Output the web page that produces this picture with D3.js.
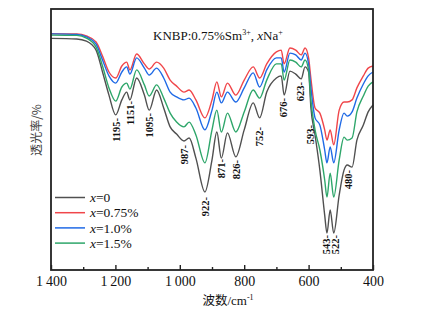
<!DOCTYPE html>
<html lang="zh">
<head>
<meta charset="UTF-8">
<title>KNBP FTIR</title>
<script src="https://d3js.org/d3.v7.min.js"></script>
<style>
  body { margin: 0; background: #fff; }
  text { font-family: "Liberation Serif", "Times New Roman", serif; fill: #111; }
</style>
</head>
<body>
<div class="chart"></div>
<script>
  const wavenumbers = [1400, 1320, 1290, 1260, 1240, 1220, 1199, 1180, 1165, 1155, 1134, 1110, 1095, 1072, 1050, 1030, 1010, 987, 971, 950,
    922, 900, 885, 871, 852, 826, 800, 772, 752, 730, 700, 685, 676, 658, 640, 623, 611, 600, 593, 580,
    565, 550, 543, 533, 522, 505, 490, 480, 465, 450, 430, 415, 400];

  // transmittance (a.u.)
  const naZero = [77.2, 77, 76.3, 73.3, 66, 58.3, 51.7, 56.7, 59.3, 56.7, 64, 58.3, 53.3, 60, 54, 47.7, 45.3, 43, 44, 37.3,
    26, 36.7, 46, 37.3, 45.7, 37.7, 46.7, 55.7, 50.7, 59.3, 64, 64.7, 58.3, 66.3, 65.3, 63.7, 67.7, 66, 54.3, 45,
    33.3, 18.3, 12.3, 20, 12.3, 25, 33.3, 35, 34.3, 43.3, 48.3, 52.7, 55];
  const na075 = [78.8, 78.7, 78, 76, 71.3, 66, 64, 68, 69.3, 66.7, 72, 68.7, 67, 69.3, 67.3, 63.3, 61.3, 59.3, 60, 56.7,
    50.7, 56.7, 62.7, 57.7, 62.3, 58.3, 63.3, 67.7, 64, 68.7, 72.7, 73.3, 68.7, 74, 73.3, 71.7, 74, 70.7, 64, 54,
    52.3, 46.7, 43.3, 46.7, 41.7, 53.3, 56, 56, 56.7, 60.7, 64.7, 67.3, 68];
  const na10 = [78.7, 78.5, 77.7, 75.3, 70, 64.7, 62.3, 66, 67.7, 65.3, 70.7, 67.3, 65, 67.3, 64, 59.3, 57.7, 56.7, 57.3, 54,
    46.7, 53.3, 59.3, 55.7, 59.3, 56, 60.7, 65.7, 61, 66.7, 70.7, 70.7, 66, 72.3, 71.7, 70, 72.3, 68.7, 61, 50.7,
    48.3, 40, 35.7, 41, 35.7, 46.7, 52.3, 51.3, 52.7, 57.3, 62, 64.7, 66];
  const na15 = [78.3, 78.2, 77.3, 74.3, 68, 60.7, 56.3, 61, 62.3, 60.3, 66.7, 61.7, 58, 61.7, 57.3, 52.3, 49.3, 47.7, 49.3, 45,
    35.7, 46.7, 53.3, 46, 52.3, 46, 52.7, 60, 57.3, 63.3, 68.7, 68.7, 63.3, 70, 69.3, 67.7, 70, 66.7, 56.7, 46.7,
    40, 30, 24.3, 32.3, 24.3, 36.7, 44.3, 43.3, 44, 52.7, 58, 61.3, 62.7];

  const seriesNames = ['0', '0.75%', '1.0%', '1.5%'];
  const seriesColors = ['#505050', '#f0464a', '#1f6ae6', '#2ea66a'];

  // band labels: text, position (cm-1), level of the label top (a.u.)
  const peakLabels = ['1195', '1151', '1095', '987', '922', '871', '826', '752', '676', '623', '593', '480', '543', '522'];
  const peakPos = [1197, 1155, 1096, 987, 922, 870, 826, 752, 678, 627, 595, 478, 544, 518];
  const peakLevel = [50.7, 56.3, 52.3, 41.7, 24.3, 37, 36.7, 47.7, 57.3, 62.7, 48.3, 33.3, 11.7, 11.7];

  const majorTicks = [1400, 1200, 1000, 800, 600, 400];
  const minorTicks = [1300, 1100, 900, 700, 500];

  const bxSize = {w: 435, h: 311};
  const margin = {top: 9, right: 62, bottom: 41, left: 51};
  const [width, height] = [bxSize.w - margin.left - margin.right, bxSize.h - margin.top - margin.bottom];

  const svg = d3.select('.chart').append('svg')
    .attr('width', bxSize.w).attr('height', bxSize.h)
    .append('g')
    .attr('transform', `translate(${margin.left} ${margin.top})`);

  const xScale = d3.scaleLinear().domain([1400, 400]).range([0, width]);
  const yScale = d3.scaleLinear().domain([0, 87]).range([height, 0]);

  const series = [naZero, na075, na10, na15].map((vals, i) => ({
    name: seriesNames[i],
    color: seriesColors[i],
    values: vals.map((v, j) => ({wn: wavenumbers[j], t: v}))
  }));

  const line = d3.line()
    .x(d => xScale(d.wn))
    .y(d => yScale(d.t))
    .curve(d3.curveMonotoneX);

  svg.selectAll('.spec').data(series).enter().append('path')
    .attr('class', 'spec')
    .attr('d', d => line(d.values))
    .attr('fill', 'none')
    .attr('stroke', d => d.color)
    .attr('stroke-width', 1.4);

  // axes
  const fmt = d => d >= 1000 ? d3.format(',')(d).replace(',', '\u2009') : d;
  const xAxis = svg.append('g').attr('transform', `translate(0 ${height})`)
    .call(d3.axisBottom(xScale).tickValues(majorTicks).tickSizeInner(-5).tickSizeOuter(0).tickPadding(6).tickFormat(fmt));
  xAxis.select('.domain').remove();
  xAxis.selectAll('text').style('font-size', '14px').style('font-family', '"Liberation Serif", serif');
  xAxis.selectAll('line').attr('stroke', '#222').attr('stroke-width', 1.4);

  const xMinor = svg.append('g').attr('transform', `translate(0 ${height})`)
    .call(d3.axisBottom(xScale).tickValues(minorTicks).tickSizeInner(-3).tickSizeOuter(0).tickFormat(''));
  xMinor.select('.domain').remove();
  xMinor.selectAll('line').attr('stroke', '#222').attr('stroke-width', 1.4);

  svg.append('rect').attr('width', width).attr('height', height)
    .attr('fill', 'none').attr('stroke', '#222').attr('stroke-width', 1.8);

  // band labels
  svg.selectAll('.peak').data(peakLabels).enter().append('text')
    .attr('class', 'peak')
    .attr('transform', (d, i) => `translate(${xScale(peakPos[i])} ${yScale(peakLevel[i])}) rotate(-90)`)
    .attr('text-anchor', 'end')
    .attr('dy', '0.35em')
    .style('font-size', '10.5px')
    .style('font-weight', 'bold')
    .text(d => d + '-');

  // title
  const title = svg.append('text').attr('x', 102).attr('y', 31).style('font-size', '13px');
  title.append('tspan').text('KNBP:0.75%Sm');
  title.append('tspan').attr('dy', -5).style('font-size', '8px').text('3+');
  title.append('tspan').attr('dy', 5).text(', ');
  title.append('tspan').style('font-style', 'italic').text('x');
  title.append('tspan').text('Na');
  title.append('tspan').attr('dy', -5).style('font-size', '8px').text('+');

  // legend
  const legend = svg.selectAll('.legend').data(series).enter().append('g')
    .attr('class', 'legend')
    .attr('transform', (d, i) => `translate(4 ${188.5 + i * 15.2})`);
  legend.append('line').attr('x1', 0).attr('x2', 30)
    .attr('stroke', d => d.color).attr('stroke-width', 1.5);
  const lt = legend.append('text').attr('x', 35).attr('dy', '0.35em').style('font-size', '13.5px');
  lt.append('tspan').style('font-style', 'italic').text('x');
  lt.append('tspan').text(d => '=' + d.name);

  // axis titles
  const xt = svg.append('text').attr('x', 177).attr('y', 296).attr('text-anchor', 'middle').style('font-size', '13px');
  xt.append('tspan').style('font-family', '"Noto Sans CJK SC"').style('font-size', '12.5px').text('波数');
  xt.append('tspan').text('/cm');
  xt.append('tspan').attr('dy', -5).style('font-size', '8px').text('-1');

  svg.append('text')
    .attr('transform', `translate(-10 ${121}) rotate(-90)`)
    .attr('text-anchor', 'middle')
    .style('font-family', '"Noto Sans CJK SC"')
    .style('font-size', '12px')
    .style('fill', '#444')
    .text('透光率/%');
</script>
</body>
</html>
